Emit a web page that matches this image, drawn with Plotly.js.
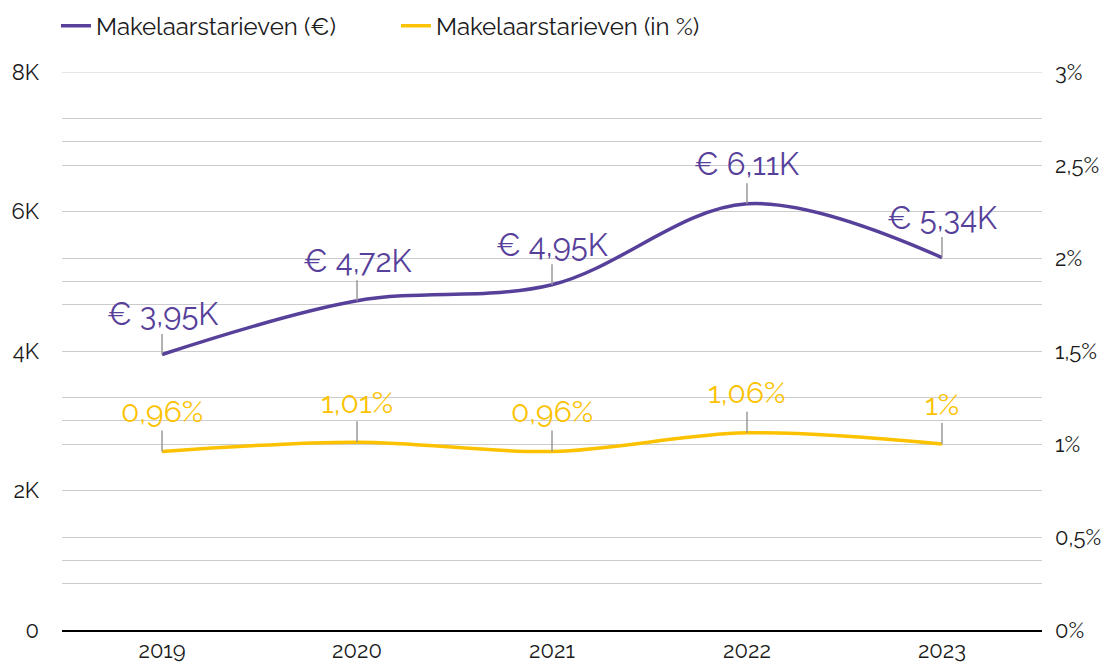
<!DOCTYPE html>
<html>
<head>
<meta charset="utf-8">
<script src="https://cdn.plot.ly/plotly-3.0.1.min.js"></script>
<style>html,body{margin:0;padding:0;background:#fff;}#chart{width:1108px;height:669px;}</style>
</head>
<body>
<div id="chart"></div>
<script>
const years = ['2019', '2020', '2021', '2022', '2023'];
const feeEuro = [3950, 4720, 4950, 6110, 5340];
const feePct = [0.96, 1.01, 0.96, 1.06, 1.00];
const feeEuroLabels = ['€ 3,95K', '€ 4,72K', '€ 4,95K', '€ 6,11K', '€ 5,34K'];
const feePctLabels = ['0,96%', '1,01%', '0,96%', '1,06%', '1%'];
const leftTickVals = [0, 2000, 4000, 6000, 8000];
const leftTickText = ['0', '2K', '4K', '6K', '8K'];
const rightTickVals = [0, 0.5, 1, 1.5, 2, 2.5, 3];
const rightTickText = ['0%', '0,5%', '1%', '1,5%', '2%', '2,5%', '3%'];

const purple = '#56409a';
const yellow = '#fcc200';
const fontFam = 'Raleway, Lato, "Open Sans", sans-serif';

const traces = [
  {x: years, y: feeEuro, name: 'Makelaarstarieven (€)', type: 'scatter', mode: 'lines',
   line: {color: purple, width: 3.5, shape: 'spline', smoothing: 1}, yaxis: 'y'},
  {x: years, y: feePct, name: 'Makelaarstarieven (in %)', type: 'scatter', mode: 'lines',
   line: {color: yellow, width: 3.5, shape: 'spline', smoothing: 1}, yaxis: 'y2'}
];

const annotations = [];
for (let i = 0; i < years.length; i++) {
  annotations.push({x: i, y: feeEuro[i], xref: 'x', yref: 'y', text: feeEuroLabels[i],
    showarrow: true, arrowhead: 0, arrowwidth: 1.5, arrowcolor: '#999999', ax: 0, ay: -40,
    font: {size: 31, color: purple}});
  annotations.push({x: i, y: feePct[i], xref: 'x', yref: 'y2', text: feePctLabels[i],
    showarrow: true, arrowhead: 0, arrowwidth: 1.5, arrowcolor: '#999999', ax: 0, ay: -40,
    font: {size: 30, color: yellow}});
}

const gridCol = '#cccccc';
const layout = {
  width: 1108, height: 669,
  margin: {l: 62, r: 66, t: 72, b: 39},
  paper_bgcolor: '#fff', plot_bgcolor: '#fff',
  font: {family: fontFam, size: 22, color: '#1a1a1a'},
  showlegend: true,
  legend: {orientation: 'h', xref: 'container', x: 0.0505, xanchor: 'left',
    yref: 'container', y: 0.961, yanchor: 'middle',
    entrywidth: 295, entrywidthmode: 'pixels',
    font: {size: 24, color: '#1a1a1a'}},
  xaxis: {type: 'category', range: [-0.513, 4.513], showgrid: false, zeroline: false,
    showline: true, linecolor: '#000', linewidth: 2, ticks: '', tickfont: {size: 22}},
  yaxis: {range: [0, 8000], tickmode: 'array', tickvals: leftTickVals, ticktext: leftTickText,
    showgrid: true, gridcolor: gridCol, gridwidth: 1.2, zeroline: false, ticks: '',
    ticklabelstandoff: 22,
    minor: {tickmode: 'linear', tick0: 0, dtick: 1000, showgrid: true, gridcolor: gridCol, gridwidth: 1.2}},
  yaxis2: {range: [0, 3], overlaying: 'y', side: 'right', tickmode: 'array',
    tickvals: rightTickVals, ticktext: rightTickText,
    showgrid: true, gridcolor: gridCol, gridwidth: 1.2, zeroline: false, ticks: '',
    ticklabelstandoff: 12,
    minor: {tickmode: 'linear', tick0: 0, dtick: 0.25, showgrid: true, gridcolor: gridCol, gridwidth: 1.2}},
  shapes: [{type: 'line', layer: 'below', xref: 'paper', x0: 0, x1: 1, yref: 'y',
    y0: leftTickVals[leftTickVals.length - 1], y1: leftTickVals[leftTickVals.length - 1],
    line: {color: gridCol, width: 1.2}}],
  annotations: annotations
};

Plotly.newPlot('chart', traces, layout, {displayModeBar: false, responsive: false});
</script>
</body>
</html>
